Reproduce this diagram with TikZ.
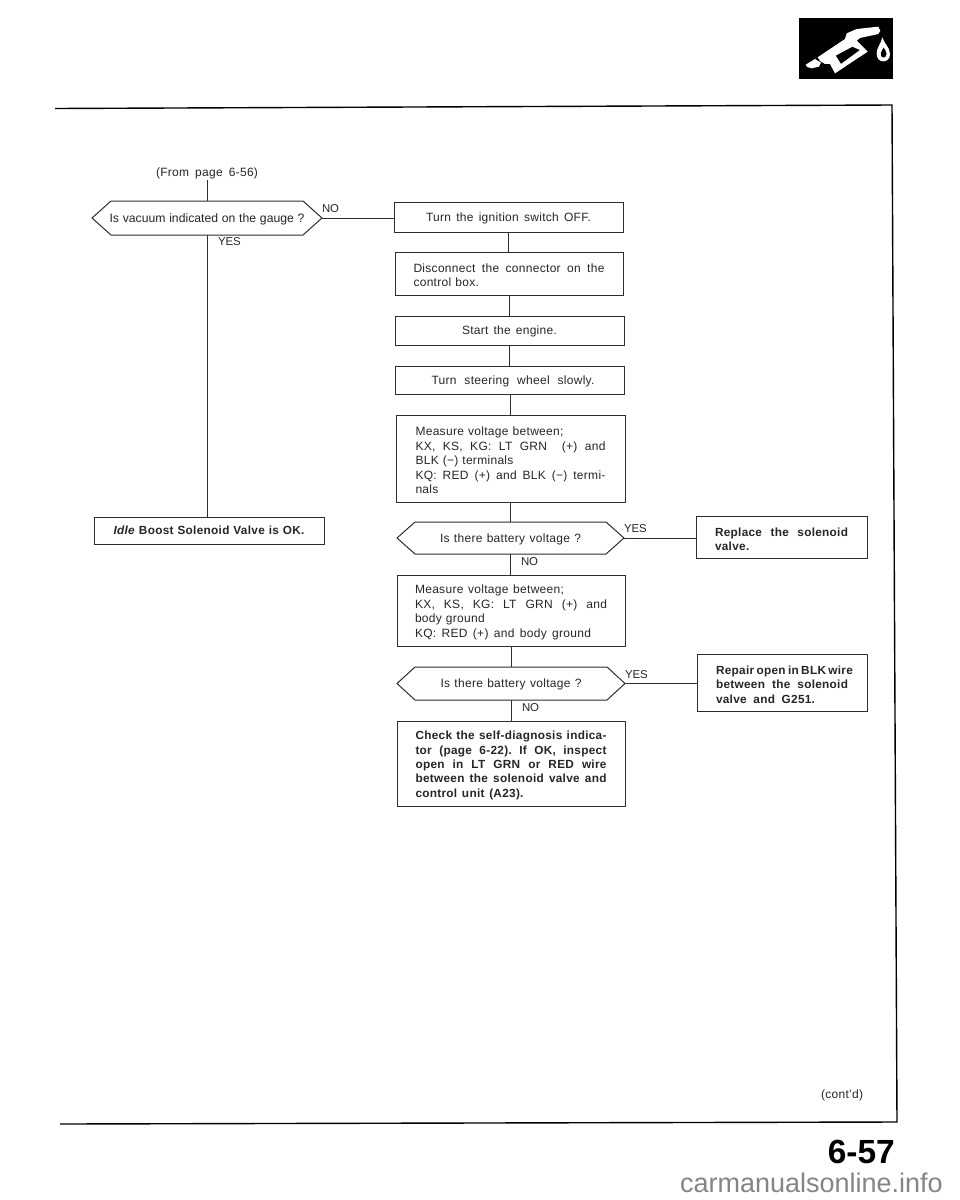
\documentclass[tikz,border=0pt]{standalone}
\usepackage{fontspec}
\setmainfont[LetterSpace=2.5]{Liberation Sans}
\newfontfamily\plainfont{Liberation Sans}
\newcommand{\fitline}[2]{\makebox[#1pt][s]{\frenchspacing\spaceskip=0pt\xspaceskip=0pt #2}}
\newcommand{\regsize}{\fontsize{12}{14.4}\selectfont}
\newcommand{\boldsize}{\fontsize{11.8}{14.4}\selectfont\bfseries}
\newcommand{\lowertext}{\rule{0pt}{12.5pt}}
\tikzset{
  x=1pt,y=-1pt,
  ink/.style={draw=black!82,line width=1pt},
  conn/.style={draw=black!82,line width=1pt},
  txt/.style={inner sep=0pt,outer sep=0pt,text=black!85,font=\regsize},
  lbl/.style={txt,anchor=west,font=\plainfont\fontsize{11.4}{14}\selectfont},
  boxa/.style={ink,rectangle,inner sep=0pt,outer sep=0pt,fill=white,text=black!85,align=left,font=\regsize},
  boxb/.style={boxa,font=\boldsize},
  single/.style={text depth=0pt},
}
% hexagon: name, x1, x2, ytop, ybot, inset, text
\newcommand{\hexnode}[7]{%
  \draw[ink,fill=white] (#2,{(#4+#5)/2}) -- (#2+#6,#4) -- (#3-#6,#4) -- (#3,{(#4+#5)/2}) -- (#3-#6,#5) -- (#2+#6,#5) -- cycle;
  \node[txt] (#1) at ({(#2+#3)/2},{(#4+#5)/2+1}) {#7};
  \coordinate (#1-l) at (#2,{(#4+#5)/2});
  \coordinate (#1-r) at (#3,{(#4+#5)/2});
  \coordinate (#1-t) at ({(#2+#3)/2},#4);
  \coordinate (#1-b) at ({(#2+#3)/2},#5);
}
\begin{document}
\begin{tikzpicture}
\useasboundingbox (0,0) rectangle (960,1200);
\fill[white] (0,0) rectangle (960,1200);
% icon
\fill[black] (799,18) rectangle (893,79);
\begin{scope}[shift={(795,14)},x=0.3333pt,y=-0.3333pt]
  \fill[white] (32,152) -- (60,135) -- (78,146) -- (72,158) -- (50,163) -- (36,159) -- cycle;
  \fill[white,even odd rule] (68,130) -- (150,75) -- (155,58) -- (185,45) -- (250,38) -- (256,50) -- (250,60) -- (195,72) -- (185,80) -- (218,113) -- (120,178) -- (105,150) -- (90,150) -- (76,142) -- cycle
     (122,125) -- (172,98) -- (195,108) -- (138,150) -- cycle;
  \fill[white,even odd rule] (262,70) .. controls (268,90) and (285,100) .. (285,120) .. controls (285,135) and (275,142) .. (265,142) .. controls (252,142) and (245,132) .. (245,118) .. controls (245,100) and (258,90) .. (262,70) -- cycle
     (266,100) .. controls (272,108) and (275,114) .. (275,120) .. controls (275,128) and (270,131) .. (265,131) .. controls (259,131) and (256,125) .. (257,118) .. controls (258,110) and (263,106) .. (266,100) -- cycle;
\end{scope}
% frame
\coordinate (ftl) at (55,108.5);
\coordinate (ftr) at (892,105);
\coordinate (fbr) at (897,1122);
\coordinate (fbl) at (60,1124);
\draw[draw=black,line width=1.4pt] (ftl) -- (ftr) -- (fbr) -- (fbl);
% left column
\node[txt] (from) at (207,173) {\fitline{102}{(From page 6-56)}};
\hexnode{h0}{92}{322}{201}{235}{19}{{\plainfont\fontsize{12.2}{14}\selectfont\fitline{195}{Is vacuum indicated on the gauge ?}}}
\node[boxb,single,minimum width=230pt,minimum height=27pt] (idle) at (209,530.5) {\fitline{191}{\textit{Idle} Boost Solenoid Valve is OK.}};
\coordinate (from-b) at (207,180);
\coordinate (h0-t2) at (207,201);
\coordinate (h0-b2) at (207,235);
\coordinate (idle-t) at (207,517);
\draw[conn] (from-b) -- (h0-t2);
\draw[conn] (h0-b2) -- (idle-t);
\node[lbl] (no0) at (322,209) {NO};
\node[lbl] (yes0) at (218,242) {YES};
% right column boxes
\node[boxa,single,minimum width=229pt,minimum height=30pt] (turn) at (508.5,217) {\fitline{165}{Turn the ignition switch OFF.}};
\node[boxa,minimum width=228pt,minimum height=43pt,text width=191pt] (disc) at (509,273.5) {\lowertext\fitline{191}{Disconnect the connector on the}\\control box.};
\node[boxa,single,minimum width=229pt,minimum height=29pt] (start) at (509.5,330.5) {\fitline{95}{Start the engine.}};
\node[boxa,single,minimum width=229pt,minimum height=28pt] (steer) at (510,380) {\hspace*{6pt}\fitline{163}{Turn steering wheel slowly.}};
\node[boxa,minimum width=229pt,minimum height=87pt,text width=190pt] (meas1) at (510.5,458.5) {\lowertext\fitline{148}{Measure voltage between;}\\\fitline{190}{KX, KS, KG: LT GRN \ (+) and}\\BLK (−) terminals\\\fitline{190}{KQ: RED (+) and BLK (−) termi-}\\nals};
\hexnode{h1}{397}{624}{522}{554}{18}{\fitline{141}{Is there battery voltage ?}}
\node[boxb,minimum width=171pt,minimum height=42pt,text width=133pt] (repl) at (781.5,537) {\lowertext\fitline{133}{Replace the solenoid}\\valve.};
\node[boxa,minimum width=228pt,minimum height=71pt,text width=192pt] (meas2) at (511,610.5) {\lowertext\fitline{149}{Measure voltage between;}\\\fitline{192}{KX, KS, KG: LT GRN (+) and}\\body ground\\\fitline{176}{KQ: RED (+) and body ground}};
\hexnode{h2}{397}{625}{667}{700}{18}{\fitline{141}{Is there battery voltage ?}}
\node[boxb,minimum width=170pt,minimum height=57pt,text width=132pt] (rep) at (782,682.5) {\lowertext\fitline{132}{Repair open in BLK wire}\\\fitline{132}{between the solenoid}\\\fitline{99}{valve and G251.}};
\node[boxb,minimum width=228pt,minimum height=85pt,text width=191pt] (chk) at (511,763.5) {\lowertext\fitline{191}{Check the self-diagnosis indica-}\\\fitline{191}{tor (page 6-22). If OK, inspect}\\\fitline{191}{open in LT GRN or RED wire}\\\fitline{191}{between the solenoid valve and}\\\fitline{108}{control unit (A23).}};
% connectors
\draw[conn] (h0-r) -- (h0-r -| turn.west);
\draw[conn] (turn.south) -- (turn.south |- disc.north);
\draw[conn] (disc.south) -- (disc.south |- start.north);
\draw[conn] (start.south) -- (start.south |- steer.north);
\draw[conn] (steer.south) -- (steer.south |- meas1.north);
\draw[conn] (meas1.south) -- (meas1.south |- h1-t);
\draw[conn] (h1-b) -- (h1-b |- meas2.north);
\draw[conn] (meas2.south) -- (meas2.south |- h2-t);
\draw[conn] (h2-b) -- (h2-b |- chk.north);
\draw[conn] (h1-r) -- (h1-r -| repl.west);
\draw[conn] (h2-r) -- (h2-r -| rep.west);
\node[lbl] (y1) at (624,529) {YES};
\node[lbl] (n1) at (521,562) {NO};
\node[lbl] (y2) at (625,675) {YES};
\node[lbl] (n2) at (522,708) {NO};
% margin texts
\node[txt] (cont) at (845,1095) {\fitline{48}{(cont'd)}};
\node[inner sep=0pt,anchor=east,font=\plainfont\fontsize{33.5}{36}\selectfont\bfseries] (pg) at (895,1152) {6-57};
\node[inner sep=0pt,anchor=base east,text=black!48,font=\plainfont\fontsize{27}{30}\selectfont] (wm) at (943,1192) {carmanualsonline.info};
\end{tikzpicture}
\end{document}
